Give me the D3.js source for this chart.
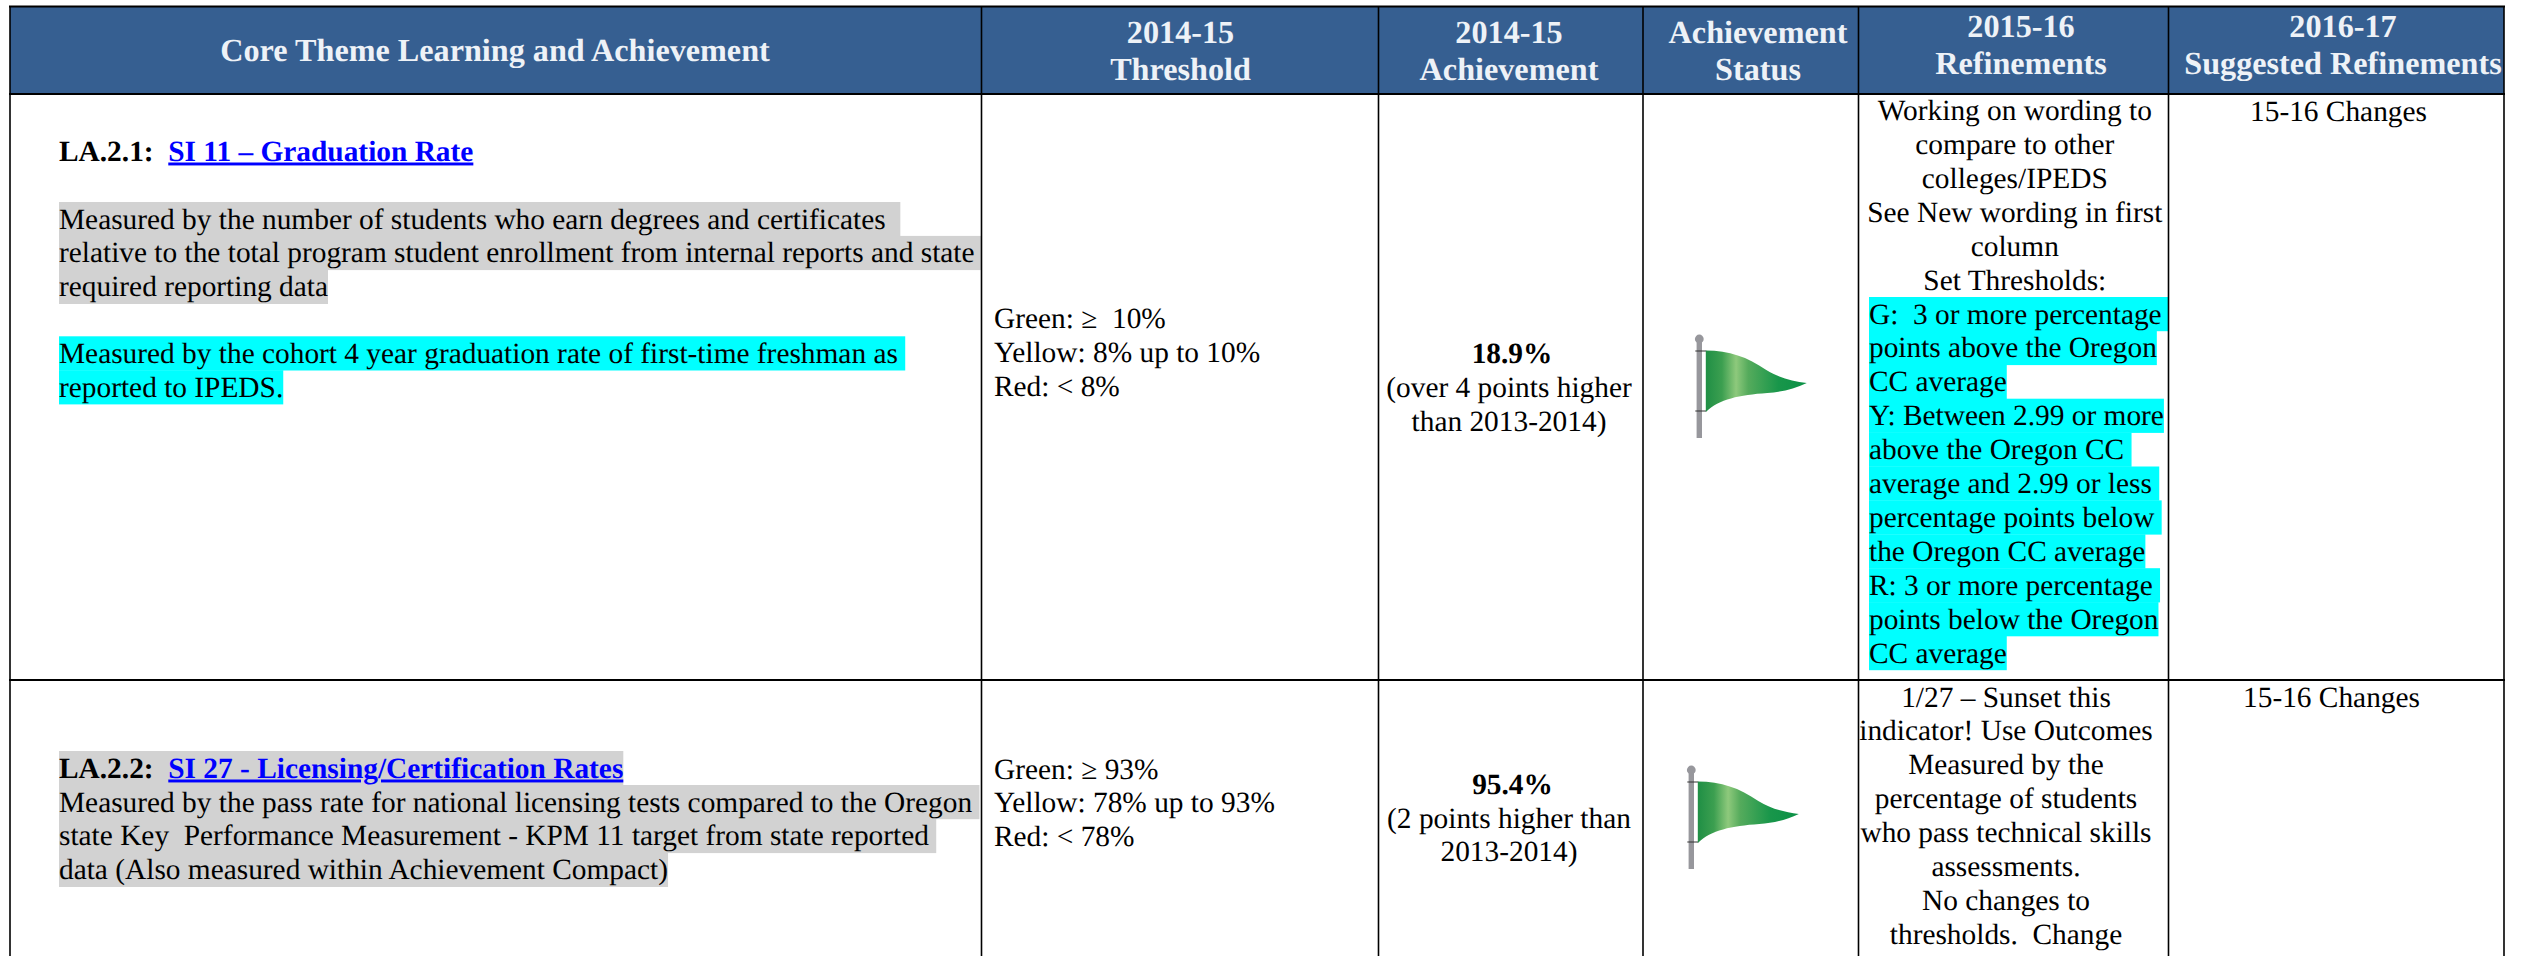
<!DOCTYPE html>
<html>
<head>
<meta charset="utf-8">
<title>Core Theme Learning and Achievement</title>
<script src="https://d3js.org/d3.v7.min.js"></script>
<style>
  html, body { margin: 0; padding: 0; background: #fff; overflow: hidden; }
  text { font-family: "Liberation Serif", serif; white-space: pre; text-rendering: geometricPrecision; }
</style>
</head>
<body>
<div id="chart"></div>
<script>
// the table contents
var columns = ['core', 'threshold', 'achievement', 'status', 'refinements', 'suggested'];
var headers = [
  ['Core Theme Learning and Achievement'],
  ['2014-15', 'Threshold'],
  ['2014-15', 'Achievement'],
  ['Achievement', 'Status'],
  ['2015-16', 'Refinements'],
  ['2016-17', 'Suggested Refinements']
];

var coreCodes = ['LA.2.1:  ', 'LA.2.2:  '];
var coreLinks = ['SI 11 \u2013 Graduation Rate', 'SI 27 - Licensing/Certification Rates'];
var coreTextRow1Gray = [
  'Measured by the number of students who earn degrees and certificates  ',
  'relative to the total program student enrollment from internal reports and state ',
  'required reporting data'
];
var coreTextRow1Cyan = [
  'Measured by the cohort 4 year graduation rate of first-time freshman as ',
  'reported to IPEDS.'
];
var coreTextRow2Gray = [
  'Measured by the pass rate for national licensing tests compared to the Oregon ',
  'state Key  Performance Measurement - KPM 11 target from state reported ',
  'data (Also measured within Achievement Compact)'
];

var thresholdRow1 = ['Green: \u2265  10%', 'Yellow: 8% up to 10%', 'Red: < 8%'];
var thresholdRow2 = ['Green: \u2265 93%', 'Yellow: 78% up to 93%', 'Red: < 78%'];

var achievementValues = ['18.9%', '95.4%'];
var achievementNotes = [
  ['(over 4 points higher', 'than 2013-2014)'],
  ['(2 points higher than', '2013-2014)']
];

var refinementsRow1Plain = [
  'Working on wording to',
  'compare to other',
  'colleges/IPEDS',
  'See New wording in first',
  'column',
  'Set Thresholds:'
];
var refinementsRow1Cyan = [
  'G:  3 or more percentage ',
  'points above the Oregon',
  'CC average',
  'Y: Between 2.99 or more',
  'above the Oregon CC ',
  'average and 2.99 or less ',
  'percentage points below ',
  'the Oregon CC average',
  'R: 3 or more percentage ',
  'points below the Oregon',
  'CC average'
];
var refinementsRow2 = [
  '1/27 \u2013 Sunset this',
  'indicator! Use Outcomes',
  'Measured by the',
  'percentage of students',
  'who pass technical skills',
  'assessments.',
  'No changes to',
  'thresholds.  Change'
];
var suggestedText = '15-16 Changes';

// layout
var width = 2530, height = 956;
var fontSize = 29.36, headFontSize = 32.2, pitch = 33.9, headPitch = 37.3;
var headFill = '#365f91', gray = '#d2d2d2', cyan = '#00ffff', linkBlue = '#0000ff';
var tableLeft = 10, tableTop = 6.5;

var colEdge = d3.scaleOrdinal().domain(columns).range([981.5, 1378.5, 1643, 1858.5, 2168.5, 2504]);
var headCenter = d3.scaleOrdinal().domain(columns).range([495, 1180.5, 1509, 1758, 2021, 2343]);
var rowLine = d3.scaleOrdinal().domain([0, 1]).range([94, 680]);
var lineY = function(start) {
  return d3.scaleLinear().domain([0, 1]).range([start, start + pitch]);
};

var svg = d3.select('#chart').append('svg')
  .attr('width', width)
  .attr('height', height);

var defs = svg.append('defs');
var grad = defs.append('linearGradient').attr('id', 'flagGreen');
grad.selectAll('stop')
  .data([[0, '#1f8f45'], [0.16, '#3c9f50'], [0.3, '#8ec97c'], [0.42, '#55ab5c'], [0.72, '#18964a'], [1, '#0b9146']])
  .enter().append('stop')
  .attr('offset', function(d) { return d[0]; })
  .attr('stop-color', function(d) { return d[1]; });

// header band
svg.append('rect')
  .attr('x', tableLeft)
  .attr('y', tableTop)
  .attr('width', colEdge('suggested') - tableLeft)
  .attr('height', rowLine(0) - tableTop)
  .style('fill', headFill);

// plain block of lines, optionally with a highlight behind each line
function drawLines(lines, x, start, opts) {
  opts = opts || {};
  var y = lineY(start);
  var g = svg.append('g');
  var texts = g.selectAll('text')
    .data(lines)
    .enter().append('text')
    .attr('x', x)
    .attr('y', function(d, i) { return y(i); })
    .attr('text-anchor', opts.anchor || 'start')
    .style('font-size', (opts.size || fontSize) + 'px')
    .style('font-weight', opts.bold ? 'bold' : 'normal')
    .style('fill', opts.fill || '#000')
    .text(function(d) { return d; });

  if (opts.mark) {
    texts.each(function(d, i) {
      var w = this.getComputedTextLength();
      g.insert('rect', 'text')
        .attr('x', x)
        .attr('y', y(i) - 26.5)
        .attr('width', w)
        .attr('height', pitch + 0.3)
        .style('fill', opts.mark);
    });
  }
}

// header labels
var headStarts = [61, 42.6, 42.6, 42.6, 36.7, 36.7];
columns.forEach(function(c, i) {
  svg.selectAll('text.h' + i)
    .data(headers[i])
    .enter().append('text')
    .attr('class', 'h' + i)
    .attr('x', headCenter(c))
    .attr('y', function(d, j) { return headStarts[i] + j * headPitch; })
    .attr('text-anchor', 'middle')
    .style('font-size', headFontSize + 'px')
    .style('font-weight', 'bold')
    .style('fill', '#eef2f7')
    .text(function(d) { return d; });
});

// the "LA.2.x: link" line of the first column
function drawCodeLine(i, y, mark) {
  var t = svg.append('text')
    .attr('x', 59)
    .attr('y', y)
    .style('font-size', fontSize + 'px')
    .style('font-weight', 'bold');
  t.append('tspan').text(coreCodes[i]);
  t.append('tspan')
    .style('fill', linkBlue)
    .style('text-decoration', 'underline')
    .text(coreLinks[i]);
  if (mark) {
    svg.insert('rect', 'text')
      .attr('x', 59)
      .attr('y', y - 26.5)
      .attr('width', t.node().getComputedTextLength())
      .attr('height', pitch + 0.3)
      .style('fill', mark);
  }
}

drawCodeLine(0, 160.5);
drawLines(coreTextRow1Gray, 59, 228.5, { mark: gray });
drawLines(coreTextRow1Cyan, 59, 362.8, { mark: cyan });

drawCodeLine(1, 777.5, gray);
drawLines(coreTextRow2Gray, 59, 811.5, { mark: gray });

drawLines(thresholdRow1, 994, 328.3);
drawLines(thresholdRow2, 994, 778.5);

drawLines([achievementValues[0]], 1512, 363, { anchor: 'middle', bold: true });
drawLines(achievementNotes[0], 1509, 397, { anchor: 'middle' });
drawLines([achievementValues[1]], 1512.5, 793.5, { anchor: 'middle', bold: true });
drawLines(achievementNotes[1], 1509, 827.5, { anchor: 'middle' });

drawLines(refinementsRow1Plain, 2014.8, 120, { anchor: 'middle' });
drawLines(refinementsRow1Cyan, 1869, 323.5, { mark: cyan });
drawLines(refinementsRow2, 2006, 706.5, { anchor: 'middle' });

drawLines([suggestedText], 2338.5, 121, { anchor: 'middle' });
drawLines([suggestedText], 2331.5, 706.5, { anchor: 'middle' });

// status flag, drawn around the top of its pole
function drawFlag(x, y) {
  var g = svg.append('g').attr('transform', 'translate(' + x + ',' + y + ')');
  g.append('rect').attr('x', -2.7).attr('y', 0).attr('width', 5.4).attr('height', 99).style('fill', '#97979c');
  g.append('circle').attr('cx', 0).attr('cy', 0).attr('r', 4.4).style('fill', '#97979c');
  g.selectAll('line')
    .data([12, 72])
    .enter().append('line')
    .attr('x1', -4).attr('x2', 7)
    .attr('y1', function(d) { return d; })
    .attr('y2', function(d) { return d; })
    .style('stroke', '#333')
    .style('stroke-width', 1);

  var p = d3.path();
  p.moveTo(6.5, 11.5);
  p.bezierCurveTo(30, 11.5, 48, 18, 67, 31);
  p.bezierCurveTo(80, 39, 93, 42, 107.5, 44);
  p.bezierCurveTo(95, 50, 82, 53, 68, 54);
  p.bezierCurveTo(40, 56, 20, 60, 6.5, 73);
  p.closePath();
  g.append('path').attr('d', p.toString()).style('fill', 'url(#flagGreen)');
}
drawFlag(1699.3, 339);
drawFlag(1691.3, 770);

// grid lines
svg.selectAll('line.h')
  .data([tableTop, rowLine(0), rowLine(1)])
  .enter().append('line')
  .attr('class', 'h')
  .attr('x1', tableLeft - 1)
  .attr('x2', colEdge('suggested') + 1)
  .attr('y1', function(d) { return d; })
  .attr('y2', function(d) { return d; })
  .style('stroke', '#000')
  .style('stroke-width', 2);

svg.selectAll('line.v')
  .data([tableLeft].concat(columns.map(function(c) { return colEdge(c); })))
  .enter().append('line')
  .attr('class', 'v')
  .attr('x1', function(d) { return d; })
  .attr('x2', function(d) { return d; })
  .attr('y1', tableTop)
  .attr('y2', height)
  .style('stroke', '#000')
  .style('stroke-width', 1.6);
</script>
</body>
</html>
